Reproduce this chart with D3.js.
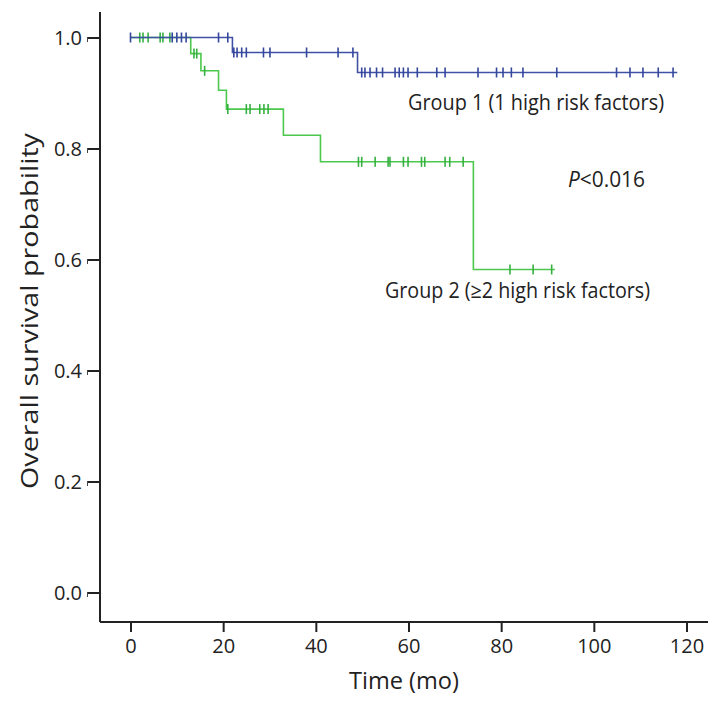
<!DOCTYPE html>
<html><head><meta charset="utf-8">
<script src="https://cdn.jsdelivr.net/npm/d3@7"></script>
<style>html,body{margin:0;padding:0;background:#fff;}svg{display:block;}</style>
</head><body>
<script>
// ---- data ----
const xTicks = [0, 20, 40, 60, 80, 100, 120];
const yTicks = [0.0, 0.2, 0.4, 0.6, 0.8, 1.0];

const group1StepTimes = [0, 22, 49];
const group1StepSurv  = [1.0, 0.973, 0.937];
const group1End = 118;
const group1Censor = [0, 9, 10, 11, 12, 19, 21,
  22.3, 23, 24, 25, 28.7, 30.1, 38, 44.8, 48,
  49.9, 50.6, 51.7, 53.1, 54.4, 57.1, 58, 58.9, 59.9, 61.9, 66.1, 67.9, 75,
  79, 80.4, 82.2, 84.7, 92, 104.9, 107.8, 110.6, 113.9, 117.1];

const group2StepTimes = [0, 13, 15.2, 19, 20.7, 33, 41, 74];
const group2StepSurv  = [1.0, 0.971, 0.940, 0.905, 0.871, 0.824, 0.776, 0.582];
const group2End = 91.6;
const group2Censor = [2, 2.7, 3.8, 6.4, 7, 8.5, 13.7, 14.3, 16,
  21, 25, 25.8, 27.9, 28.8, 29.7,
  49.2, 49.9, 52.8, 55.6, 56, 58.9, 59.9, 62.8, 63.5, 67.9, 68.9, 71.8,
  81.9, 86.9, 90.9];

const labels = {
  g1: "Group 1 (1 high risk factors)",
  g2: "Group 2 (\u22652 high risk factors)",
  xTitle: "Time (mo)",
  yTitle: "Overall survival probability"
};

// ---- drawing ----
const W = 721, H = 701;
const svg = d3.select("body").append("svg").attr("width", W).attr("height", H);
const font = "'Open Sans', 'Noto Sans', sans-serif";
const textCol = "#222";

const x = d3.scaleLinear().domain([0, 120]).range([130.5, 686.5]);
const y = d3.scaleLinear().domain([0, 1]).range([592.5, 37.5]);

const axisX = 100, axisY = 622;

// axes lines
svg.append("line").attr("x1", axisX).attr("x2", axisX).attr("y1", 12).attr("y2", axisY)
  .attr("stroke", "#222").attr("stroke-width", 2);
svg.append("line").attr("x1", axisX).attr("x2", 708).attr("y1", axisY).attr("y2", axisY)
  .attr("stroke", "#222").attr("stroke-width", 2);

// x axis via d3
const gx = svg.append("g").attr("transform", `translate(0,${axisY})`)
  .call(d3.axisBottom(x).tickValues(xTicks).tickSize(10).tickPadding(7).tickFormat(d3.format("d")));
gx.select(".domain").remove();
gx.selectAll(".tick line").attr("stroke", "#222").attr("stroke-width", 2);
gx.selectAll(".tick text").attr("font-family", font).attr("font-size", 20).attr("fill", textCol);

// y axis via d3
const gy = svg.append("g").attr("transform", `translate(${axisX},0)`)
  .call(d3.axisLeft(y).tickValues(yTicks).tickSize(12).tickPadding(6).tickFormat(d3.format(".1f")));
gy.select(".domain").remove();
gy.selectAll(".tick line").attr("stroke", "#222").attr("stroke-width", 2);
gy.selectAll(".tick").append("line").attr("x1", -12.5).attr("x2", -12.5).attr("y1", -1).attr("y2", 4)
  .attr("stroke", "#444").attr("stroke-width", 1);
gy.selectAll(".tick text").attr("font-family", font).attr("font-size", 20).attr("fill", textCol)
  .attr("dy", "0.35em");

// titles
svg.append("text").attr("x", 404).attr("y", 689).attr("text-anchor", "middle")
  .attr("font-family", font).attr("font-size", 23).attr("fill", textCol)
  .attr("textLength", 110).attr("lengthAdjust", "spacingAndGlyphs").text(labels.xTitle);
svg.append("text").attr("transform", "translate(38,311) rotate(-90)").attr("text-anchor", "middle")
  .attr("font-family", font).attr("font-size", 23).attr("fill", textCol)
  .attr("textLength", 356).attr("lengthAdjust", "spacingAndGlyphs").text(labels.yTitle);

// KM curves
function stepPath(times, surv, end) {
  const pts = [];
  for (let i = 0; i < times.length; i++) {
    if (i > 0) pts.push([times[i], surv[i - 1]]);
    pts.push([times[i], surv[i]]);
  }
  pts.push([end, surv[surv.length - 1]]);
  return pts;
}
function survAt(times, surv, t) {
  let s = surv[0];
  for (let i = 0; i < times.length; i++) if (times[i] <= t) s = surv[i];
  return s;
}
const line = d3.line().x(d => x(d[0])).y(d => y(d[1]));

function drawGroup(times, surv, end, censor, lineCol, markCol) {
  svg.append("path").datum(stepPath(times, surv, end)).attr("d", line)
    .attr("fill", "none").attr("stroke", lineCol).attr("stroke-width", 1.6);
  svg.append("g").selectAll("line").data(censor).join("line")
    .attr("x1", d => x(d)).attr("x2", d => x(d))
    .attr("y1", d => y(survAt(times, surv, d)) - 5)
    .attr("y2", d => y(survAt(times, surv, d)) + 5)
    .attr("stroke", markCol).attr("stroke-width", 1.6);
}
drawGroup(group2StepTimes, group2StepSurv, group2End, group2Censor, "#4cc84c", "#35b040");
drawGroup(group1StepTimes, group1StepSurv, group1End, group1Censor, "#3f52a6", "#34479c");

// annotations
svg.append("text").attr("x", 408).attr("y", 110).attr("font-family", font).attr("font-size", 21)
  .attr("fill", textCol).attr("textLength", 256).attr("lengthAdjust", "spacingAndGlyphs").text(labels.g1);
const pt = svg.append("text").attr("x", 568).attr("y", 187).attr("font-family", font).attr("font-size", 21)
  .attr("fill", textCol).attr("textLength", 77).attr("lengthAdjust", "spacingAndGlyphs");
pt.append("tspan").attr("font-style", "italic").text("P");
pt.append("tspan").text("<0.016");
svg.append("text").attr("x", 385).attr("y", 298).attr("font-family", font).attr("font-size", 21)
  .attr("fill", textCol).attr("textLength", 265).attr("lengthAdjust", "spacingAndGlyphs").text(labels.g2);
</script>
</body></html>
